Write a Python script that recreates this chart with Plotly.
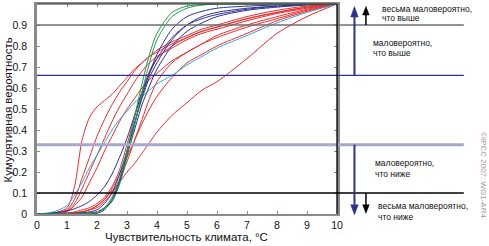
import plotly.graph_objects as go

# общая сетка по оси X (чувствительность климата, °C)
sens = [0, 0.5, 1, 1.25, 1.5, 1.75, 2, 2.25, 2.5, 2.75, 3, 3.25, 3.5, 3.75,
        4, 4.5, 5, 5.5, 6, 7, 8, 9, 10]

# красные кривые
red_1 = [0, .003, .03, .13, .35, .46, .51, .54, .57, .61, .65, .69, .72, .75, .78, .82, .85, .88, .9, .94, .97, .99, 1]
red_2 = [0, .002, .02, .07, .17, .27, .37, .45, .52, .58, .63, .68, .72, .75, .77, .81, .84, .87, .89, .93, .96, .985, 1]
red_3 = [0, .002, .015, .05, .12, .2, .28, .36, .44, .51, .57, .63, .68, .72, .75, .79, .83, .86, .88, .92, .955, .98, 1]
red_4 = [0, .001, .01, .04, .08, .15, .22, .3, .37, .44, .5, .55, .6, .64, .67, .73, .77, .81, .84, .89, .93, .97, 1]
red_5 = [0, 0, .005, .01, .02, .03, .05, .08, .13, .21, .33, .46, .58, .68, .74, .8, .84, .87, .89, .93, .96, .985, 1]
red_6 = [0, 0, .003, .006, .01, .02, .03, .06, .1, .16, .25, .35, .45, .55, .63, .72, .77, .81, .85, .9, .94, .975, 1]
red_7 = [0, 0, .003, .006, .01, .02, .04, .07, .12, .19, .27, .35, .43, .5, .56, .65, .72, .76, .8, .86, .92, .965, 1]
red_8 = [0, 0, .003, .005, .01, .02, .04, .07, .11, .15, .2, .24, .29, .34, .39, .47, .53, .59, .63, .74, .86, .94, 1]
# голубая
cyan_1 = [0, .008, .04, .09, .15, .22, .28, .34, .4, .45, .49, .53, .56, .59, .62, .66, .71, .75, .79, .85, .91, .96, 1]
# синие
navy_1 = [0, .005, .015, .025, .04, .06, .09, .13, .19, .27, .36, .47, .58, .67, .74, .84, .9, .93, .95, .975, .99, .997, 1]
navy_2 = [0, 0, .001, .003, .006, .01, .02, .05, .1, .19, .3, .43, .56, .67, .76, .88, .94, .965, .98, .99, .995, .998, 1]
navy_3 = [0, 0, .001, .002, .004, .007, .01, .03, .06, .15, .28, .4, .52, .61, .69, .8, .87, .91, .94, .97, .985, .995, 1]
navy_4 = [0, 0, 0, .001, .002, .003, .003, .02, .07, .16, .3, .43, .55, .65, .72, .83, .9, .94, .96, .98, .99, .997, 1]
# зелёные
green_1 = [0, 0, 0, .001, .002, .005, .01, .03, .08, .17, .3, .46, .62, .76, .86, .96, .99, .997, 1, 1, 1, 1, 1]
green_2 = [0, 0, 0, .001, .002, .004, .008, .025, .06, .14, .27, .42, .58, .72, .83, .94, .98, .995, .999, 1, 1, 1, 1]

levels = [0.9, 0.66, 0.33, 0.1]
level_colors = ["#6e6e6e", "#2e3192", "#a5a7cc", "#000000"]
level_widths = [1.5, 1.3, 3, 1.3]

RED, CYAN, NAVY, GREEN = "#f02a2a", "#2aa8e0", "#2e3192", "#1f9a4a"
curves = [(red_1, RED), (red_2, RED), (red_3, RED), (red_4, RED), (red_5, RED),
          (red_6, RED), (red_7, RED), (red_8, RED), (cyan_1, CYAN),
          (navy_1, NAVY), (navy_2, NAVY), (navy_3, NAVY), (navy_4, NAVY),
          (green_1, GREEN), (green_2, GREEN)]

fig = go.Figure()
for ys, col in curves:
    fig.add_trace(go.Scatter(x=sens, y=ys, mode="lines",
                             line=dict(color=col, width=1, shape="spline", smoothing=0.8),
                             hoverinfo="skip", showlegend=False))

# пиксели -> координаты бумаги
L, R, T, B = 36.5, 337, 4, 214.3
def px(x):
    return (x - L) / (R - L)
def py(y):
    return (B - y) / (B - T)

shapes = []
for lv, c, w in zip(levels, level_colors, level_widths):
    shapes.append(dict(type="line", xref="paper", yref="y", x0=0, x1=px(464),
                       y0=lv, y1=lv, line=dict(color=c, width=w)))
# рамка справа и сверху
shapes.append(dict(type="line", xref="paper", yref="paper", x0=1, x1=1, y0=0, y1=1,
                   line=dict(color="#000", width=1.3)))
shapes.append(dict(type="line", xref="paper", yref="paper", x0=0, x1=1, y0=1, y1=1,
                   line=dict(color="#333", width=1)))

def arrow(xc, y_from, y_tip, y_base, half, col, w):
    shapes.append(dict(type="line", xref="paper", yref="paper", x0=px(xc), x1=px(xc),
                       y0=py(y_from), y1=py(y_base), line=dict(color=col, width=w)))
    path = "M %f,%f L %f,%f L %f,%f Z" % (px(xc - half), py(y_base), px(xc + half), py(y_base),
                                          px(xc), py(y_tip))
    shapes.append(dict(type="path", xref="paper", yref="paper", path=path,
                       fillcolor=col, line=dict(color=col, width=0.5)))

arrow(354.5, B - 0.66 * 210.3, 6.5, 17, 3.8, NAVY, 2)
arrow(366, B - 0.9 * 210.3, 6.5, 15, 3.3, "#000", 1.5)
arrow(354.5, B - 0.33 * 210.3, 215, 205, 3.8, NAVY, 2)
arrow(366, B - 0.1 * 210.3, 213.5, 205, 3.3, "#000", 1.5)

notes = [("весьма маловероятно,", 380, 9.3), ("что выше", 380, 18.3),
         ("маловероятно,", 370.7, 43.3), ("что выше", 370.7, 53.3),
         ("маловероятно,", 372.7, 163.3), ("что ниже", 372.7, 174.3),
         ("весьма маловероятно,", 376, 206.7), ("что ниже", 376.5, 217.3)]
ann = []
for txt, x, y in notes:
    ann.append(dict(text=txt, xref="paper", yref="paper", x=px(x), y=py(y),
                    xanchor="left", yanchor="middle", showarrow=False,
                    font=dict(size=8.5, color="#111", family="Liberation Sans, Arial")))
ann.append(dict(text="©IPCC 2007: WG1-AR4", xref="paper", yref="paper", x=px(483), y=py(175),
                textangle=90, showarrow=False, xanchor="center", yanchor="middle",
                font=dict(size=8, color="#9a9a9a", family="Liberation Sans, Arial")))
ann.append(dict(text="Чувствительность климата, °C", xref="paper", yref="paper",
                x=px(186), y=py(237), showarrow=False, xanchor="center", yanchor="middle",
                font=dict(size=11.5, color="#111", family="Liberation Sans, Arial")))
ann.append(dict(text="Кумулятивная вероятность", xref="paper", yref="paper",
                x=px(7), y=py(110), textangle=-90, showarrow=False,
                xanchor="center", yanchor="middle",
                font=dict(size=11.5, color="#111", family="Liberation Sans, Arial")))

fig.update_layout(
    width=489, height=246,
    margin=dict(l=L, r=489 - R, t=T, b=246 - B, pad=0, autoexpand=False),
    plot_bgcolor="white", paper_bgcolor="white",
    shapes=shapes, annotations=ann,
    font=dict(family="Liberation Sans, Arial", size=10.5, color="#111"),
    xaxis=dict(range=[0, 10], dtick=1, showgrid=False, zeroline=False, automargin=False,
               showline=True, linecolor="#8a8a8a", linewidth=2,
               ticks="inside", ticklen=3, tickcolor="#8a8a8a", mirror="ticks"),
    yaxis=dict(range=[0, 1], dtick=0.1, showgrid=False, zeroline=False, automargin=False,
               showline=True, linecolor="#8a8a8a", linewidth=2.5,
               ticks="inside", ticklen=3, tickcolor="#8a8a8a", mirror="ticks",
               tickformat="~g", ticklabelstandoff=5),
)

# убираем стандартный отступ body в 8px
fig.write_html("out.html", config={"displayModeBar": False},
               post_script="document.body.style.margin='0';")
